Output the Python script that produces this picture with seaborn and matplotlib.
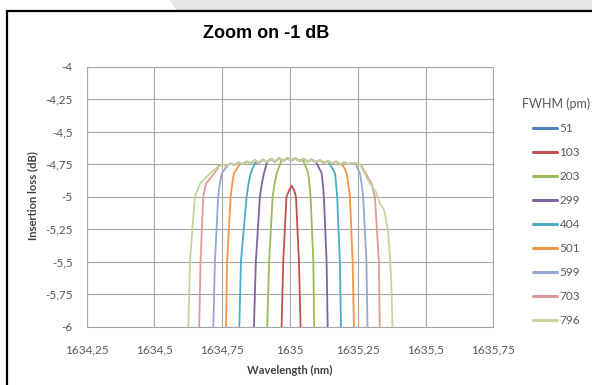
import matplotlib
matplotlib.use("Agg")
import matplotlib.pyplot as plt
from matplotlib.patches import Polygon, Rectangle
import seaborn as sns
import pandas as pd

# FWHM values (pm) and Excel-style colours
fwhm = [51, 103, 203, 299, 404, 501, 599, 703, 796]
colors = ["#4F81BD", "#C0504D", "#9BBB59", "#8064A2", "#4BACC6",
          "#F79646", "#93AAD6", "#DE9A99", "#C3D69B"]

# shared ripple on top of the passbands (wavelength nm, loss dB)
ripple_wl = [1634.72, 1634.735, 1634.75, 1634.765, 1634.78, 1634.795, 1634.81,
             1634.825, 1634.84, 1634.855, 1634.87, 1634.885, 1634.90, 1634.915,
             1634.93, 1634.945, 1634.96, 1634.975, 1634.99, 1635.005, 1635.02,
             1635.035, 1635.05, 1635.065, 1635.08, 1635.095, 1635.11, 1635.125,
             1635.14, 1635.155, 1635.17, 1635.185, 1635.20, 1635.215, 1635.23,
             1635.245, 1635.26, 1635.275]
ripple_loss = [-4.77, -4.76, -4.755, -4.765, -4.745, -4.755, -4.735,
               -4.75, -4.73, -4.745, -4.72, -4.74, -4.715, -4.735,
               -4.71, -4.73, -4.705, -4.725, -4.705, -4.72, -4.705,
               -4.725, -4.71, -4.73, -4.715, -4.735, -4.72, -4.74,
               -4.725, -4.745, -4.73, -4.75, -4.735, -4.75, -4.74,
               -4.745, -4.75, -4.76]

# rising edges (bottom -> top) and falling edges (top -> bottom)
left_edge = {
    51: [(1634.99, -6.45), (1635.0, -6.35), (1635.01, -6.45)],
    103: [(1634.969, -6.0), (1634.975, -5.5), (1634.987, -5.0), (1634.997, -4.95),
          (1635.006, -4.915), (1635.015, -4.95), (1635.022, -5.0),
          (1635.033, -5.5), (1635.039, -6.0)],
    203: [(1634.916, -6.0), (1634.923, -5.5), (1634.936, -5.0), (1634.943, -4.9),
          (1634.951, -4.82), (1634.969, -4.72)],
    299: [(1634.867, -6.0), (1634.874, -5.5), (1634.889, -5.0), (1634.896, -4.9),
          (1634.904, -4.82), (1634.916, -4.73)],
    404: [(1634.813, -6.0), (1634.819, -5.5), (1634.840, -5.0), (1634.847, -4.9),
          (1634.855, -4.82), (1634.871, -4.74)],
    501: [(1634.764, -6.0), (1634.768, -5.5), (1634.781, -5.0), (1634.787, -4.9),
          (1634.793, -4.82), (1634.815, -4.75)],
    599: [(1634.717, -6.0), (1634.723, -5.5), (1634.735, -5.0), (1634.741, -4.9),
          (1634.748, -4.82), (1634.772, -4.756)],
    703: [(1634.665, -6.0), (1634.670, -5.5), (1634.680, -5.0), (1634.690, -4.9),
          (1634.711, -4.846), (1634.734, -4.78)],
    796: [(1634.625, -6.0), (1634.631, -5.5), (1634.649, -5.0), (1634.668, -4.9),
          (1634.705, -4.82), (1634.734, -4.77), (1634.753, -4.755)],
}
right_edge = {
    51: [],
    103: [],
    203: [(1635.049, -4.72), (1635.067, -4.82), (1635.072, -4.9), (1635.076, -5.0),
          (1635.086, -5.5), (1635.089, -6.0)],
    299: [(1635.098, -4.74), (1635.117, -4.82), (1635.121, -4.9), (1635.125, -5.0),
          (1635.135, -5.5), (1635.139, -6.0)],
    404: [(1635.147, -4.75), (1635.166, -4.82), (1635.170, -4.9), (1635.174, -5.0),
          (1635.184, -5.5), (1635.188, -6.0)],
    501: [(1635.196, -4.76), (1635.209, -4.82), (1635.215, -4.9), (1635.221, -5.0),
          (1635.231, -5.5), (1635.236, -6.0)],
    599: [(1635.246, -4.77), (1635.258, -4.82), (1635.264, -4.9), (1635.270, -5.0),
          (1635.282, -5.5), (1635.286, -6.0)],
    703: [(1635.268, -4.78), (1635.301, -4.9), (1635.313, -5.0), (1635.328, -5.5), (1635.331, -6.0)],
    796: [(1635.265, -4.78), (1635.295, -4.9), (1635.319, -4.97), (1635.331, -5.05),
          (1635.347, -5.1), (1635.361, -5.25), (1635.370, -5.5), (1635.375, -5.75), (1635.378, -6.0)],
}

x_ticks = [1634.25, 1634.5, 1634.75, 1635.0, 1635.25, 1635.5, 1635.75]
x_labels = ["1634,25", "1634,5", "1634,75", "1635", "1635,25", "1635,5", "1635,75"]
y_ticks = [-6, -5.75, -5.5, -5.25, -5, -4.75, -4.5, -4.25, -4]
y_labels = ["-6", "-5,75", "-5,5", "-5,25", "-5", "-4,75", "-4,5", "-4,25", "-4"]

# build long table
rows = []
for f in fwhm:
    pts = list(left_edge[f])
    if right_edge[f]:
        lo, hi = pts[-1][0], right_edge[f][0][0]
        pts += [(w, l) for w, l in zip(ripple_wl, ripple_loss) if lo < w < hi]
        pts += right_edge[f]
    for i, (w, l) in enumerate(pts):
        rows.append({"fwhm": str(f), "order": i, "wl": w, "loss": l})
df = pd.DataFrame(rows)

sns.set_theme(style="white")
plt.rcParams["font.family"] = ["Lato", "DejaVu Sans"]

W, H = 592, 385
fig = plt.figure(figsize=(W / 100, H / 100), dpi=100)
fig.patch.set_facecolor("white")

# grey slanted strip at top and black frame
fig.patches.append(Polygon([(170 / W, 1), (176 / W, 1 - 10 / H), (1, 1 - 10 / H), (1, 1)],
                           closed=True, transform=fig.transFigure, facecolor="#E6E6E6",
                           edgecolor="none", zorder=0))
fig.patches.append(Rectangle((6.5 / W, -0.05), 1.0, 1 - 10.5 / H + 0.05,
                             transform=fig.transFigure, facecolor="white",
                             edgecolor="black", lw=1.6, zorder=1))

ax = fig.add_axes([86.7 / W, 1 - 326.7 / H, (493.3 - 86.7) / W, (326.7 - 66.7) / H])
ax.set_zorder(2)
ax.patch.set_alpha(0)

palette = {str(f): c for f, c in zip(fwhm, colors)}
sns.lineplot(data=df, x="wl", y="loss", hue="fwhm", palette=palette,
             hue_order=[str(f) for f in fwhm], sort=False, estimator=None,
             units="fwhm", lw=1.3, ax=ax, legend=True)

ax.set_xlim(1634.25, 1635.75)
ax.set_ylim(-6, -4)
ax.set_xticks(x_ticks)
ax.set_xticklabels(x_labels)
ax.set_yticks(y_ticks)
ax.set_yticklabels(y_labels)
ax.grid(True, color="#A6A6A6", lw=0.8)
ax.set_axisbelow(True)
for s in ax.spines.values():
    s.set_color("#A6A6A6")
    s.set_linewidth(0.8)
ax.tick_params(axis="both", length=4, width=0.8, color="#A6A6A6",
               labelsize=8.5, labelcolor="#595959", pad=6)
ax.tick_params(axis="x", pad=9)
ax.set_xlabel("")
ax.set_ylabel("")

fig.text(290 / W, 1 - 370 / H, "Wavelength (nm)", ha="center", va="center",
         fontsize=8, fontweight="bold", color="#404040")
fig.text(33 / W, 1 - 196 / H, "Insertion loss (dB)", ha="center", va="center",
         rotation=90, fontsize=8, fontweight="bold", color="#404040")
fig.text(266 / W, 1 - 34 / H, "Zoom on -1 dB", ha="center", va="center",
         fontsize=13, fontweight="bold", color="black", family="Liberation Sans")
fig.text(521.5 / W, 1 - 104 / H, "FWHM (pm)", ha="left", va="center",
         fontsize=9, color="#595959")

handles, labels = ax.get_legend_handles_labels()
for h in handles:
    h.set_linewidth(2.2)
leg = ax.legend(handles, labels, loc="upper left",
                bbox_to_anchor=(533 / W, 1 - 123 / H), bbox_transform=fig.transFigure,
                frameon=False, handlelength=2.0, handletextpad=0.25,
                labelspacing=1.1, borderaxespad=0, borderpad=0, fontsize=8.5)
for t in leg.get_texts():
    t.set_color("#595959")

fig.savefig("out.png", dpi=100)
